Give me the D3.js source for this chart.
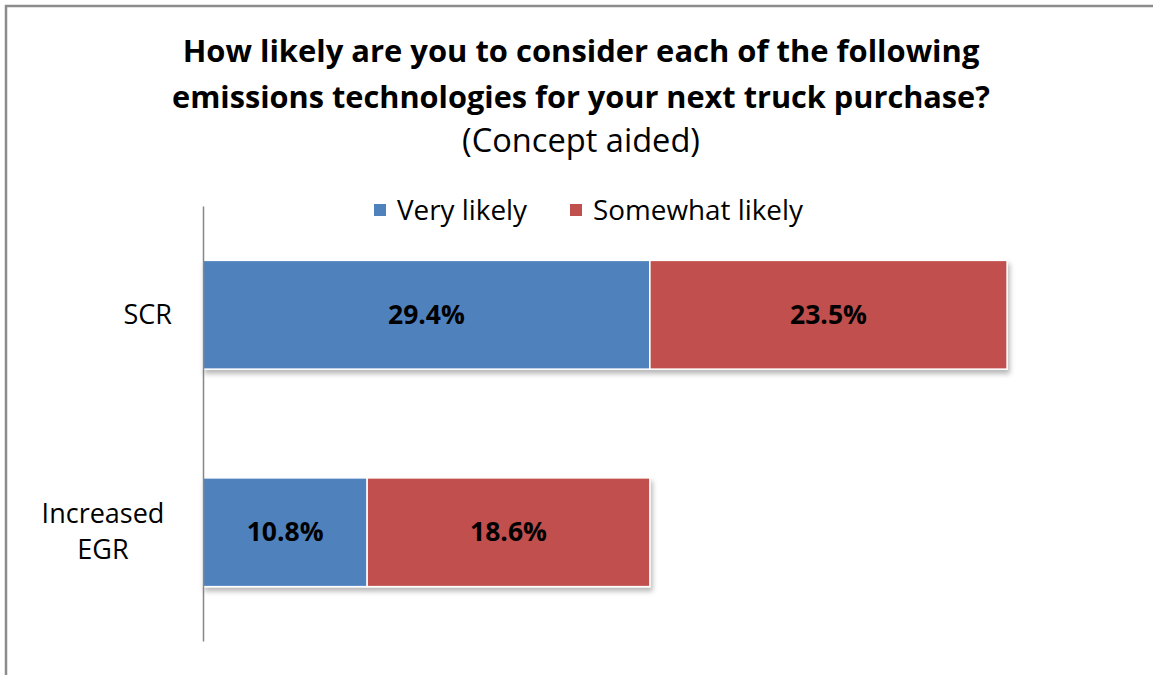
<!DOCTYPE html>
<html>
<head>
<meta charset="utf-8">
<script src="https://cdn.jsdelivr.net/npm/d3@7/dist/d3.min.js"></script>
<style>
html,body{margin:0;padding:0;background:#fff;}
svg{display:block;}
text{font-family:"Open Sans","Liberation Sans",sans-serif;}
</style>
</head>
<body>
<svg id="chart" width="1153" height="675"></svg>
<script>
const categories = ["SCR", "Increased EGR"];
const categoryLines = [["SCR"], ["Increased", "EGR"]];
const seriesNames = ["Very likely", "Somewhat likely"];
const veryLikely = [29.4, 10.8];
const somewhatLikely = [23.5, 18.6];
const seriesColors = ["#4f81bd", "#c0504d"];
const titleLines = ["How likely are you to consider each of the following", "emissions technologies for your next truck purchase?"];
const subtitle = "(Concept aided)";

const svg = d3.select("#chart");
const W = 1153, H = 675;

// frame
svg.append("rect").attr("x",0).attr("y",0).attr("width",W).attr("height",H).attr("fill","#fff");
svg.append("path").attr("d","M6,675 V6 H1153").attr("fill","none").attr("stroke","#8c8c8c").attr("stroke-width",2.5);

const defs = svg.append("defs");
const f = defs.append("filter").attr("id","shadow").attr("x","-5%").attr("y","-10%").attr("width","115%").attr("height","130%");
f.append("feDropShadow").attr("dx",2).attr("dy",4).attr("stdDeviation",2.5).attr("flood-color","#000").attr("flood-opacity",0.28);

function fit(sel, target){
  const n = sel.node(); const w = n.getComputedTextLength();
  const fs = parseFloat(sel.attr("font-size"));
  sel.attr("font-size", fs*target/w);
}

// titles
const t1 = svg.append("text").attr("x",581).attr("y",62).attr("text-anchor","middle").attr("font-weight","bold").attr("font-size",28).attr("fill","#000").text(titleLines[0]);
fit(t1, 797);
const t2 = svg.append("text").attr("x",581).attr("y",108).attr("text-anchor","middle").attr("font-weight","bold").attr("font-size",28).attr("fill","#000").text(titleLines[1]);
fit(t2, 818);
const t3 = svg.append("text").attr("x",581).attr("y",152).attr("text-anchor","middle").attr("font-size",28).attr("fill","#000").text(subtitle);
fit(t3, 238);

// scales
const x = d3.scaleLinear().domain([0, 60]).range([203, 203 + 60*15.2]);
const y = d3.scaleBand().domain(categories).range([206, 641]).paddingInner(0.5).paddingOuter(0.25);

const stackData = categories.map((c,i)=>({cat:c, "Very likely":veryLikely[i], "Somewhat likely":somewhatLikely[i]}));
const stack = d3.stack().keys(seriesNames)(stackData);

// bars with shadow per category
const groups = svg.append("g");
categories.forEach((c,ci)=>{
  const g = groups.append("g").attr("filter","url(#shadow)");
  stack.forEach((s,si)=>{
    const d = s[ci];
    g.append("rect").attr("x",x(d[0])).attr("y",y(c)).attr("width",x(d[1])-x(d[0])).attr("height",y.bandwidth())
      .attr("fill",seriesColors[si]).attr("stroke","#fff").attr("stroke-width",1.5);
  });
});
// labels
stack.forEach((s,si)=>{
  s.forEach((d,ci)=>{
    svg.append("text").attr("x",(x(d[0])+x(d[1]))/2).attr("y",y(categories[ci])+y.bandwidth()/2+9)
      .attr("text-anchor","middle").attr("font-weight","bold").attr("font-size",26.5).attr("fill","#000")
      .text((d[1]-d[0]).toFixed(1)+"%");
  });
});

// axis line
const axis = svg.append("g").attr("transform","translate(203,0)").call(d3.axisLeft(y).tickSize(0).tickFormat(""));
axis.select(".domain").attr("stroke","#868686").attr("stroke-width",1.5);

// category labels
categories.forEach((c,ci)=>{
  const lines = categoryLines[ci];
  const cy = y(c)+y.bandwidth()/2;
  const lh = 36;
  lines.forEach((l,li)=>{
    const ty = cy - (lines.length-1)*lh/2 + li*lh + 9;
    svg.append("text").attr("x", lines.length>1?103:172).attr("y",ty)
      .attr("text-anchor", lines.length>1?"middle":"end").attr("font-size",27).attr("fill","#000").text(l);
  });
});

// legend
const legX = [374, 570];
const legW = [130, 210];
seriesNames.forEach((n,i)=>{
  svg.append("rect").attr("x",legX[i]).attr("y",204).attr("width",12).attr("height",12).attr("fill",seriesColors[i]);
  const t = svg.append("text").attr("x",legX[i]+23).attr("y",220).attr("font-size",24).attr("fill","#000").text(n);
  fit(t, legW[i]);
});
</script>
</body>
</html>
